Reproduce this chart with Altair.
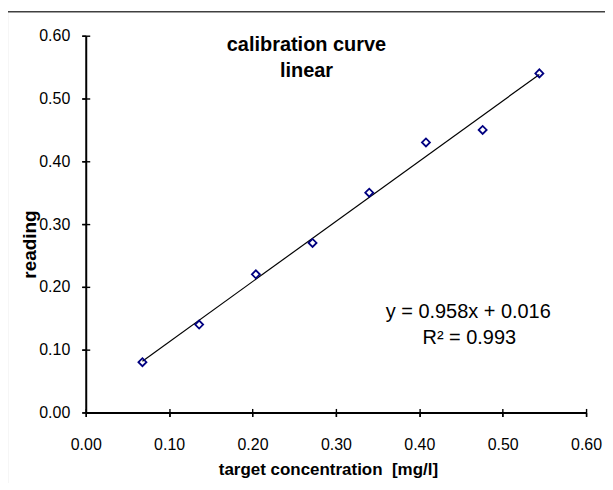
import altair as alt
import pandas as pd

# ---- data ----
concentration = [0.068, 0.136, 0.204, 0.272, 0.340, 0.408, 0.476, 0.544]
reading = [0.08, 0.14, 0.22, 0.27, 0.35, 0.43, 0.45, 0.54]
axis_ticks = [0.0, 0.1, 0.2, 0.3, 0.4, 0.5, 0.6]
chart_title = ["calibration curve", "linear"]
equation = ["y = 0.958x + 0.016", "R\u00b2 = 0.993"]
x_title = "target concentration\u00a0 [mg/l]"
y_title = "reading"

df = pd.DataFrame({"x": concentration, "y": reading})

FONT = "Liberation Sans, Arial, Helvetica, sans-serif"
xscale = alt.Scale(domain=[0, 0.6], nice=False, zero=False)
yscale = alt.Scale(domain=[0, 0.6], nice=False, zero=False)

common = dict(values=axis_ticks, grid=False, tickColor="black", tickWidth=1.4)

x_main = alt.Axis(
    orient="bottom", format=".2f", title=x_title,
    titleFont=FONT, titleFontSize=17, titleFontWeight="bold", titleColor="black",
    titleX=243, titleY=62, titleAlign="center", titleBaseline="alphabetic",
    labelFont=FONT, labelFontSize=16, labelColor="black", labelPadding=20,
    labelFlush=False, labelOverlap=False,
    domainColor="black", domainWidth=2, tickSize=4, **common)
y_main = alt.Axis(
    orient="left", format=".2f", title=y_title,
    titleFont=FONT, titleFontSize=19, titleFontWeight="bold", titleColor="black",
    titleX=-56, titleY=209, titleAngle=270, titleAlign="center", titleBaseline="middle",
    labelFont=FONT, labelFontSize=16, labelColor="black", labelPadding=12,
    labelFlush=False, labelOverlap=False,
    domainColor="black", domainWidth=2, tickSize=4, **common)
x_cross = alt.Axis(orient="bottom", offset=-4, tickSize=8, labels=False,
                   domain=False, title=None, **common)
y_cross = alt.Axis(orient="left", offset=-4, tickSize=8, labels=False,
                   domain=False, title=None, **common)

one = pd.DataFrame({"a": [0]})

frame_left = alt.Chart(one).mark_rule(color="#404040", strokeWidth=1.5).encode(
    x=alt.value(-78.7), y=alt.value(-24), y2=alt.value(470))
frame_top = alt.Chart(one).mark_rule(color="#404040", strokeWidth=1.5).encode(
    x=alt.value(-78.7), x2=alt.value(540), y=alt.value(-24))

fit = alt.Chart(df).transform_regression("x", "y").mark_line(
    color="black", strokeWidth=1.2).encode(
    x=alt.X("x:Q", scale=xscale, axis=x_cross),
    y=alt.Y("y:Q", scale=yscale, axis=y_cross))

points = alt.Chart(df).mark_point(
    shape="diamond", filled=False, color="#000080", size=64,
    strokeWidth=1.8, opacity=1).encode(
    x=alt.X("x:Q", scale=xscale, axis=x_main),
    y=alt.Y("y:Q", scale=yscale, axis=y_main))


def label(txt, xv, yv, size, bold):
    return alt.Chart(pd.DataFrame({"t": [txt]})).mark_text(
        font=FONT, fontSize=size, fontWeight="bold" if bold else "normal",
        color="black", align="center", baseline="middle").encode(
        x=alt.XDatum(xv, axis=None), y=alt.YDatum(yv, axis=None), text="t:N")


texts = [
    label(chart_title[0], 0.2647, 0.5855, 20, True),
    label(chart_title[1], 0.2647, 0.5430, 20, True),
    label(equation[0], 0.4587, 0.1600, 20, False),
    label(equation[1], 0.4600, 0.1190, 20, False),
]

chart = alt.layer(frame_left, frame_top, fit, points, *texts).resolve_axis(
    x="independent", y="independent"
).properties(
    width=502, height=378,
    padding={"left": 78, "top": 27, "right": 19, "bottom": 70},
    autosize=alt.AutoSizeParams(type="none"),
    background="white",
).configure_view(stroke=None)

chart.save("out.html", embed_options={"renderer": "svg", "actions": False})
